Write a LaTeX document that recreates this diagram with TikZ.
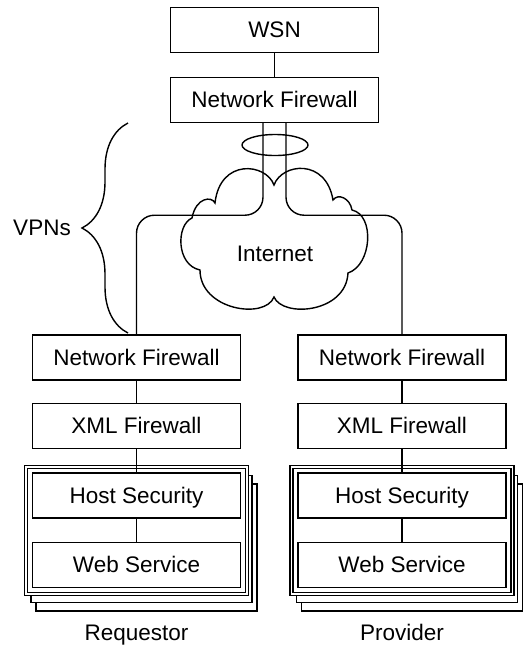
\documentclass[tikz,border=0pt]{standalone}
\usepackage{fontspec}
\setmainfont{Liberation Sans}
\usetikzlibrary{shapes.geometric,decorations.pathreplacing}
\begin{document}
\begin{tikzpicture}[x=1pt,y=-1pt,
  line width=1.4pt,
  txt/.style={font=\fontsize{22.5}{26}\selectfont},
  box/.style={draw, fill=white, minimum width=208pt, minimum height=45pt, inner sep=0pt, text height=18pt, text depth=3pt, txt},
  lbl/.style={inner sep=0pt, txt},
  stackback/.style={draw, fill=white, minimum width=221pt, minimum height=127pt, inner sep=0pt},
  stackfront/.style={stackback, double, double distance=1.6pt},
  link/.style={draw},
  vpn/.style={draw, rounded corners=18pt},
]
\useasboundingbox (0,0) rectangle (529,649);

% top column
\node[box] (wsn) at (274.5,30) {WSN};
\node[box] (nfT) at (274.5,100) {Network Firewall};

% requestor stack
\node[stackback] (reqS3) at (146.5,547.5) {};
\node[stackback] (reqS2) at (141.5,539) {};
\node[stackfront] (reqS1) at (136.5,530.5) {};
\node[box] (reqNF) at (136.5,357.5) {Network Firewall};
\node[box] (reqXML) at (136.5,426) {XML Firewall};
\node[box] (reqHS) at (136.5,495.5) {Host Security};
\node[box] (reqWS) at (136.5,565) {Web Service};
\node[lbl, anchor=base] (reqL) at (136.5,640) {Requestor};

% provider stack
\node[stackback] (proS3) at (412,547.5) {};
\node[stackback] (proS2) at (407,539) {};
\node[stackfront] (proS1) at (402,530.5) {};
\node[box] (proNF) at (402,357.5) {Network Firewall};
\node[box] (proXML) at (402,426) {XML Firewall};
\node[box] (proHS) at (402,495.5) {Host Security};
\node[box] (proWS) at (402,565) {Web Service};
\node[lbl, anchor=base] (proL) at (402,640) {Provider};

% cloud
\draw (274,185)
  .. controls (266,163) and (220,158) .. (215,203)
  .. controls (212,196) and (196,197) .. (192,218)
  .. controls (176,225) and (176,265) .. (200,270)
  .. controls (200,310) and (265,320) .. (274,297)
  .. controls (283,318) and (346,313) .. (348,273)
  .. controls (372,265) and (375,215) .. (352,210)
  .. controls (350,198) and (338,193) .. (333,200)
  .. controls (326,158) and (282,163) .. (274,185) -- cycle;
\node[lbl] (inet) at (275,254) {Internet};

% ring around the two tunnels
\node[draw, ellipse, minimum width=66pt, minimum height=21pt, inner sep=0pt] (ring) at (275,145) {};

% connectors
\path[link] (wsn) -- (nfT);
\path[link] (reqNF) -- (reqXML);
\path[link] (reqXML) -- (reqHS);
\path[link] (reqHS) -- (reqWS);
\path[link] (proNF) -- (proXML);
\path[link] (proXML) -- (proHS);
\path[link] (proHS) -- (proWS);
\path[vpn] ([xshift=-11.5pt]nfT.south) -- ++(0,92) -| (reqNF.north);
\path[vpn] ([xshift=11.5pt]nfT.south) -- ++(0,92) -| (proNF.north);

% brace
\coordinate (bT) at (128,123);
\coordinate (bB) at (128,333);
\draw[decorate, decoration={brace, amplitude=46pt}] (bB) -- (bT);
\node[lbl] (vpns) at (42,228) {VPNs};
\end{tikzpicture}
\end{document}
